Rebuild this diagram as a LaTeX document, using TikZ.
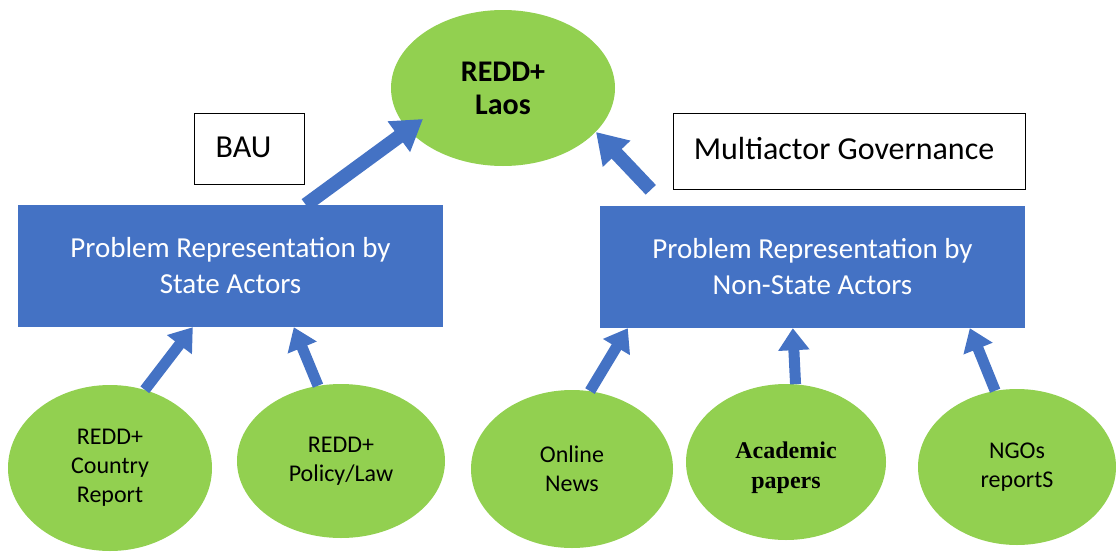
\documentclass[tikz,border=0pt]{standalone}
\usepackage{fontspec}
\setmainfont{Carlito}
\newfontfamily\serifbold{Liberation Serif}
\usetikzlibrary{shapes.geometric,arrows.meta,calc}
\definecolor{boxblue}{HTML}{4472C4}
\definecolor{leaf}{HTML}{92D050}
\begin{document}
\begin{tikzpicture}[x=1pt,y=-1pt,
  src/.style={ellipse, fill=leaf, inner sep=0pt, align=center, font=\fontsize{24}{29}\selectfont},
  prob/.style={rectangle, fill=boxblue, text=white, align=center, inner sep=0pt, minimum width=425pt, minimum height=122pt, font=\fontsize{29}{36}\selectfont},
  lbl/.style={rectangle, draw=black, line width=0.8pt, inner sep=0pt, font=\fontsize{32}{34}\selectfont},
  flow/.style={draw=boxblue, line width=11pt, -{Triangle[length=22pt,width=30pt]}},
  bigflow/.style={draw=boxblue, line width=14pt, -{Triangle[length=30pt,width=36pt]}},
]
\useasboundingbox (0,0) rectangle (1116,552);
% top goal
\node[src, minimum width=224pt, minimum height=156pt, font=\bfseries\fontsize{30}{33}\selectfont] (laos) at (503,88) {REDD+\\Laos};
% labels
\node[lbl, minimum width=110pt, minimum height=71pt] (bau) at (249,148.5) {\hspace*{-11pt}\raisebox{3pt}{BAU}};
\node[lbl, minimum width=352pt, minimum height=76pt] (mag) at (849,151) {\hspace*{-10pt}\raisebox{6pt}{Multiactor Governance}};
% problem boxes
\node[prob] (state) at (230.5,266) {Problem Representation by\\State Actors};
\node[prob] (nstate) at (812.5,267) {Problem Representation by\\Non-State Actors};
% sources
\node[src, minimum width=204pt, minimum height=166pt] (cr) at (110,468) {REDD+\\Country\\Report};
\node[src, minimum width=208pt, minimum height=154pt] (pl) at (341,461) {REDD+\\Policy/Law};
\node[src, minimum width=202pt, minimum height=158pt] (on) at (572,469) {Online\\News};
\node[src, minimum width=200pt, minimum height=156pt,
  label={[yshift=-6pt, align=center, inner sep=0pt, font=\serifbold\bfseries\fontsize{24}{30}\selectfont]center:Academic\\papers}] (ac) at (786,462) {};
\node[src, minimum width=198pt, minimum height=156pt] (ng) at (1017,467) {NGOs\\reportS};
% connectors
\draw[bigflow] ($(state.north west)+(288,0)$) -- ($(laos.center)+(-80,31)$);
\draw[bigflow] ($(nstate.north west)+(51,-16)$) -- ($(laos.center)+(93,44)$);
\draw[flow] (cr.66) -- ($(state.south west)+(175,0)$);
\draw[flow] (pl.107) -- ($(state.south west)+(276,0)$);
\draw[flow] (on.77) -- ($(nstate.south west)+(28,0)$);
\draw[flow] (ac.83) -- ($(nstate.south west)+(193,0)$);
\draw[flow] (ng.106) -- ($(nstate.south west)+(370,0)$);
\end{tikzpicture}
\end{document}
